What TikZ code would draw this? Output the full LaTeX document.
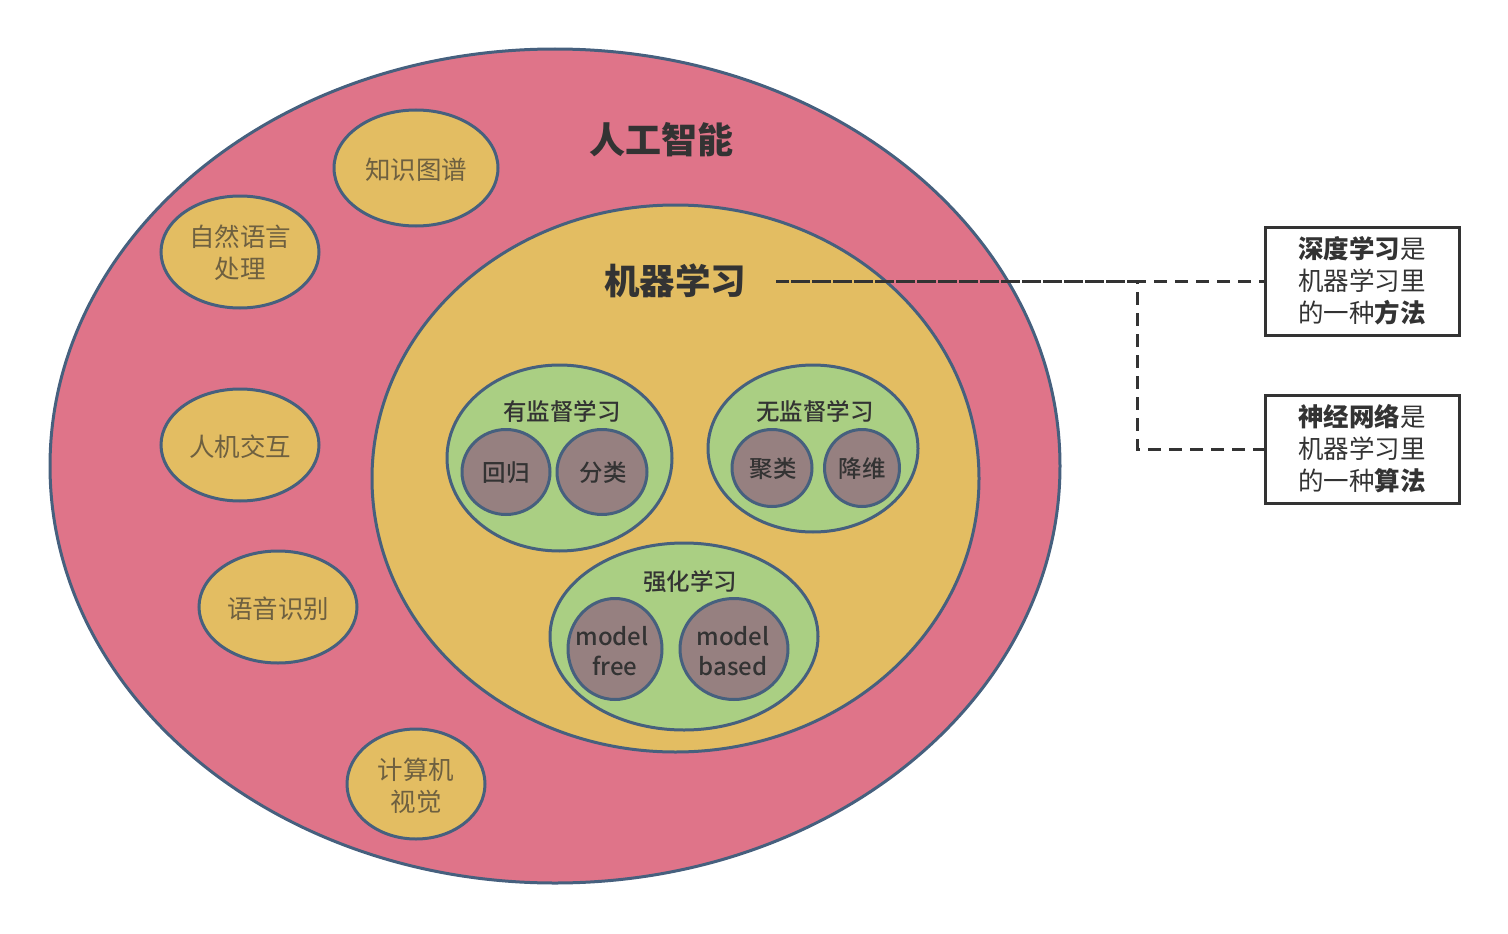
\documentclass[tikz,border=0pt]{standalone}
\usepackage{fontspec}
\setmainfont{Noto Sans CJK SC}
\newfontfamily\medfont{Noto Sans CJK SC Medium}
\usetikzlibrary{calc}
\definecolor{ringred}{HTML}{DF7489}
\definecolor{ringyel}{HTML}{E3BD62}
\definecolor{ringgrn}{HTML}{AACF83}
\definecolor{ringgry}{HTML}{968080}
\definecolor{edgeblue}{HTML}{46607E}
\definecolor{txtdark}{HTML}{333333}
\definecolor{txtbrown}{HTML}{6E6040}
\tikzset{
  ell/.style={draw=edgeblue, line width=3pt},
  lbl/.style={text=txtdark, font=\medfont\fontsize{23.5}{27}\selectfont, inner sep=0pt},
  outlbl/.style={text=txtbrown, font=\fontsize{25.5}{32}\selectfont, align=center, inner sep=0pt},
  boxnode/.style={draw=txtdark, line width=3pt, minimum width=194pt, minimum height=108pt, align=left, text=txtdark, font=\fontsize{25.5}{32}\selectfont, inner sep=0pt},
  dashcon/.style={draw=txtdark, line width=3pt, dash pattern=on 13pt off 8pt}
}
\begin{document}
\begin{tikzpicture}[x=1pt,y=-1pt]
\useasboundingbox (0,0) rectangle (1508,934);
% big AI ellipse
\draw[ell, fill=ringred] (555,466) ellipse [x radius=505, y radius=417];
% outer small ellipses
\draw[ell, fill=ringyel] (416,168) ellipse [x radius=82, y radius=58];
\draw[ell, fill=ringyel] (240,252) ellipse [x radius=79, y radius=56];
\draw[ell, fill=ringyel] (240,445) ellipse [x radius=79, y radius=56];
\draw[ell, fill=ringyel] (278,607) ellipse [x radius=79, y radius=56];
\draw[ell, fill=ringyel] (416,784) ellipse [x radius=69, y radius=55];
\node[outlbl] (kg) at (416,170) {知识图谱};
\node[outlbl] (nlp) at (240,253) {自然语言\\处理};
\node[outlbl] (hci) at (240,447) {人机交互};
\node[outlbl] (asr) at (278,609) {语音识别};
\node[outlbl] (cv) at (416,786) {计算机\\视觉};
% ML ellipse
\draw[ell, fill=ringyel] (675.5,478.5) ellipse [x radius=303.5, y radius=273.5];
% supervised
\draw[ell, fill=ringgrn] (559.5,458) ellipse [x radius=112.5, y radius=93];
\draw[ell, fill=ringgry] (506,472) ellipse [x radius=44, y radius=42.5];
\draw[ell, fill=ringgry] (602,472) ellipse [x radius=45, y radius=42.5];
% unsupervised
\draw[ell, fill=ringgrn] (813,448.5) ellipse [x radius=105, y radius=83.5];
\draw[ell, fill=ringgry] (772,468) ellipse [x radius=40, y radius=38.5];
\draw[ell, fill=ringgry] (862,468) ellipse [x radius=37.5, y radius=38.5];
% reinforcement
\draw[ell, fill=ringgrn] (684,636.5) ellipse [x radius=134, y radius=93.5];
\draw[ell, fill=ringgry] (615,649) ellipse [x radius=47, y radius=50.5];
\draw[ell, fill=ringgry] (734,649) ellipse [x radius=54, y radius=50.5];
% labels
\node[text=txtdark, font=\bfseries\fontsize{36}{40}\selectfont, inner sep=0pt] (ai) at (661,140) {人工智能};
\node[text=txtdark, font=\bfseries\fontsize{35.5}{38}\selectfont, inner sep=0pt] (ml) at (675,281) {机器学习};
\node[lbl] (sup) at (562,411) {有监督学习};
\node[lbl] (uns) at (815,411) {无监督学习};
\node[lbl] (rl) at (690,582) {强化学习};
\node[lbl] (reg) at (506,473) {回归};
\node[lbl] (cls) at (603,473) {分类};
\node[lbl] (clu) at (773,469) {聚类};
\node[lbl] (dim) at (862,469) {降维};
\node[lbl, font=\medfont\fontsize{24}{30}\selectfont, align=center] (mf) at (612,651) {model\\\ free};
\node[lbl, font=\medfont\fontsize{24}{30}\selectfont, align=center] (mb) at (733,651) {model\\based};
% boxes
\node[boxnode] (b1) at (1362,281) {\textbf{深度学习}是\\机器学习里\\的一种\textbf{方法}};
\node[boxnode] (b2) at (1362,449) {\textbf{神经网络}是\\机器学习里\\的一种\textbf{算法}};
% connectors
\coordinate (s) at (776,281);
\coordinate (j) at (1137,281);
\draw[dashcon] (s) -- (b1.west);
\draw[dashcon, dash phase=6pt] (s) -- (j) |- (b2.west);
\end{tikzpicture}
\end{document}
